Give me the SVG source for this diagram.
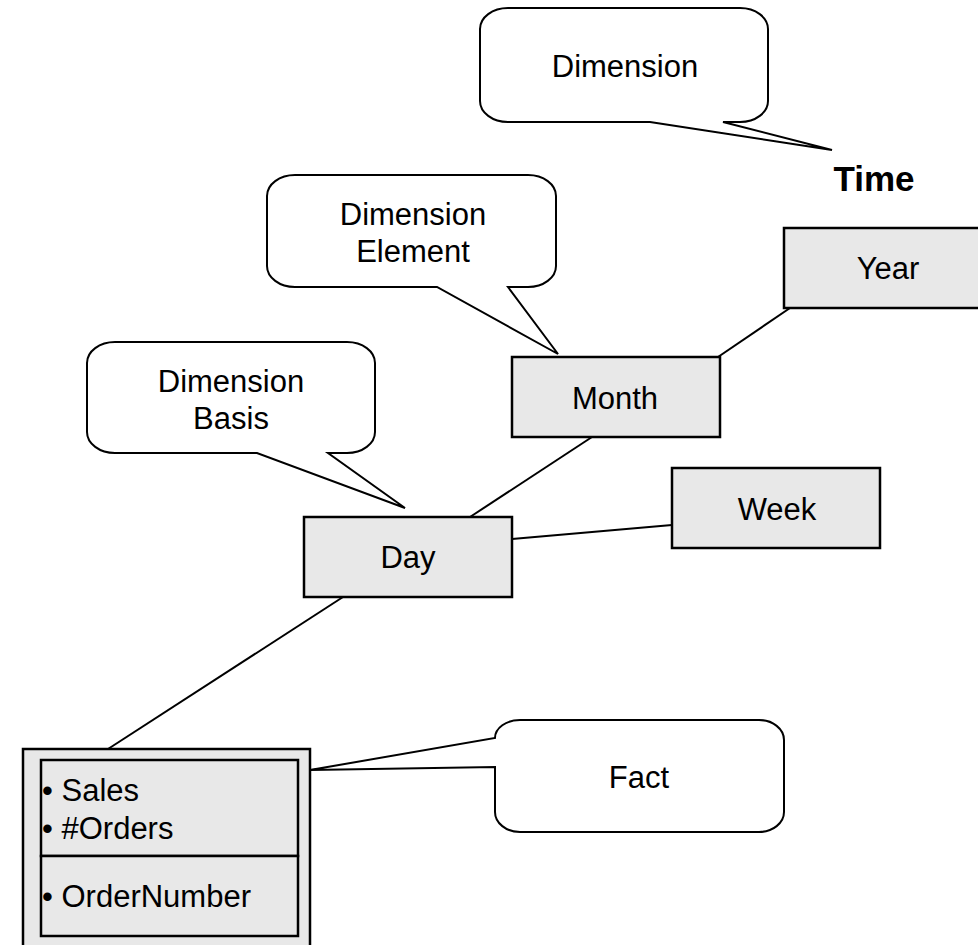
<svg xmlns="http://www.w3.org/2000/svg" width="978" height="945" viewBox="0 0 978 945">
<style>
.bg{fill:#ffffff}
.box{fill:#e8e8e8;stroke:#000;stroke-width:2.5}
.callout{fill:#ffffff;stroke:#000;stroke-width:2;stroke-linejoin:miter}
.conn{stroke:#000;stroke-width:2;fill:none}
text{font-family:"Liberation Sans",Arial,sans-serif;font-size:31px;fill:#000}
.c{text-anchor:middle}
.title{font-weight:bold;font-size:35px}
</style>
<rect class="bg" x="0" y="0" width="978" height="945"/>
<g id="connectors">
<line class="conn" x1="790" y1="308" x2="718" y2="357"/>
<line class="conn" x1="592" y1="437" x2="470" y2="517"/>
<line class="conn" x1="512" y1="539" x2="672" y2="525"/>
<line class="conn" x1="343" y1="597" x2="108" y2="749"/>
</g>
<g id="callout-dimension">
<path class="callout" d="M508,8 L740,8 A28,21 0 0 1 768,29 L768,101 A28,21 0 0 1 740,122 L723,122 L832,150 L650,122 L508,122 A28,21 0 0 1 480,101 L480,29 A28,21 0 0 1 508,8 Z"/>
<text class="c" x="625" y="77">Dimension</text>
</g>
<g id="time-label">
<text class="c title" x="874" y="191">Time</text>
</g>
<g id="callout-element">
<path class="callout" d="M295,175 L528,175 A28,21 0 0 1 556,196 L556,266 A28,21 0 0 1 528,287 L508,287 L558,354 L437,287 L295,287 A28,21 0 0 1 267,266 L267,196 A28,21 0 0 1 295,175 Z"/>
<text class="c" x="413" y="225">Dimension</text>
<text class="c" x="413" y="262">Element</text>
</g>
<g id="callout-basis">
<path class="callout" d="M115,342 L347,342 A28,21 0 0 1 375,363 L375,432 A28,21 0 0 1 347,453 L328,453 L405,508 L257,453 L115,453 A28,21 0 0 1 87,432 L87,363 A28,21 0 0 1 115,342 Z"/>
<text class="c" x="231" y="392">Dimension</text>
<text class="c" x="231" y="429">Basis</text>
</g>
<g id="year">
<rect class="box" x="784" y="228" width="200" height="80"/>
<text class="c" x="888" y="279">Year</text>
</g>
<g id="month">
<rect class="box" x="512" y="357" width="208" height="80"/>
<text class="c" x="615" y="409">Month</text>
</g>
<g id="week">
<rect class="box" x="672" y="468" width="208" height="80"/>
<text class="c" x="777" y="520">Week</text>
</g>
<g id="day">
<rect class="box" x="304" y="517" width="208" height="80"/>
<text class="c" x="408" y="568">Day</text>
</g>
<g id="fact">
<rect class="box" x="23" y="749" width="287" height="210"/>
<rect class="box" x="41" y="760" width="257" height="96"/>
<rect class="box" x="41" y="856" width="257" height="80"/>
<text x="42" y="801">• Sales</text>
<text x="42" y="839">• #Orders</text>
<text x="42" y="907">• OrderNumber</text>
</g>
<g id="callout-fact">
<path class="callout" d="M520,720 L759,720 A25,20 0 0 1 784,740 L784,812 A25,20 0 0 1 759,832 L520,832 A25,20 0 0 1 495,812 L495,767 L310,770 L495,738 A25,18 0 0 1 520,720 Z"/>
<text class="c" x="639" y="788">Fact</text>
</g>
</svg>
